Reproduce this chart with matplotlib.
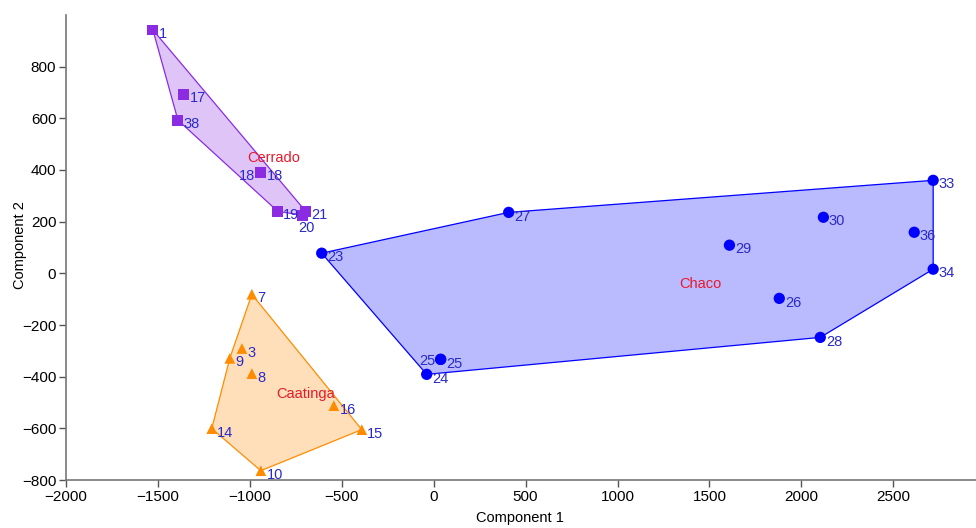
import matplotlib
matplotlib.use("Agg")
import matplotlib.pyplot as plt
import numpy as np

plt.rcParams['font.family'] = ['Liberation Sans', 'DejaVu Sans']

# ---- data ----
cerrado_labels = ["1", "17", "38", "18", "18", "19", "21", "20"]
cerrado_x = [-1527, -1359, -1391, -940, -940, -848, -696, -712]
cerrado_y = [942, 694, 593, 391, 391, 240, 240, 225]

caatinga_labels = ["7", "3", "9", "8", "16", "15", "14", "10"]
caatinga_x = [-989, -1043, -1109, -989, -543, -391, -1207, -940]
caatinga_y = [-81, -291, -329, -388, -512, -605, -601, -764]

chaco_labels = ["23", "27", "29", "30", "33", "36", "34", "26", "28", "25", "25", "24"]
chaco_x = [-609, 408, 1609, 2120, 2717, 2614, 2717, 1880, 2103, 38, 38, -38]
chaco_y = [78, 236, 109, 217, 360, 159, 16, -97, -248, -333, -333, -391]

group_names = ["Cerrado", "Caatinga", "Chaco"]
group_label_x = [-870, -696, 1451]
group_label_y = [446, -469, -43]

x_ticks = [-2000, -1500, -1000, -500, 0, 500, 1000, 1500, 2000, 2500]
y_ticks = [-800, -600, -400, -200, 0, 200, 400, 600, 800]

# label offsets (points) per group, special-case overrides
default_off = (4, -3)
overrides = {
    ("Cerrado", 4): (-4, -3, 'right'),
    ("Cerrado", 7): (-3, -9, 'left'),
    ("Chaco", 10): (-4, -1, 'right'),
}


def convex_hull(pts):
    pts = sorted(set(map(tuple, pts)))
    if len(pts) <= 2:
        return pts

    def cross(o, a, b):
        return (a[0] - o[0]) * (b[1] - o[1]) - (a[1] - o[1]) * (b[0] - o[0])
    lower = []
    for p in pts:
        while len(lower) >= 2 and cross(lower[-2], lower[-1], p) <= 0:
            lower.pop()
        lower.append(p)
    upper = []
    for p in reversed(pts):
        while len(upper) >= 2 and cross(upper[-2], upper[-1], p) <= 0:
            upper.pop()
        upper.append(p)
    return lower[:-1] + upper[:-1]


fig = plt.figure(figsize=(9.76, 5.28), dpi=100)
ax = fig.add_axes([0.0676, 0.0909, 0.9324, 0.8807])

groups = [
    ("Cerrado", cerrado_x, cerrado_y, cerrado_labels, "#8b2be2", "s", 62),
    ("Caatinga", caatinga_x, caatinga_y, caatinga_labels, "#ff8c00", "^", 60),
    ("Chaco", chaco_x, chaco_y, chaco_labels, "#0000ff", "o", 66),
]

for name, xs, ys, labs, col, mk, s in groups:
    hull = convex_hull(list(zip(xs, ys)))
    hx = [p[0] for p in hull]
    hy = [p[1] for p in hull]
    ax.fill(hx, hy, facecolor=col, alpha=0.27, edgecolor='none', zorder=1)
    ax.fill(hx, hy, facecolor='none', edgecolor=col, linewidth=0.9, zorder=2)
    ax.scatter(xs, ys, marker=mk, s=s, color=col, edgecolors='none', zorder=3)
    for i, (x, y, lab) in enumerate(zip(xs, ys, labs)):
        if (name, i) in overrides:
            dx, dy, ha = overrides[(name, i)]
        else:
            dx, dy = default_off
            ha = 'left'
        ax.annotate(lab, (x, y), xytext=(dx, dy), textcoords='offset points',
                    ha=ha, va='center', color='#2a2ac8', fontsize=10.5, zorder=4)

for name, gx, gy in zip(group_names, group_label_x, group_label_y):
    ax.text(gx, gy, name, color='#e8192c', fontsize=10.5, ha='center', va='center', zorder=5)

ax.set_xlim(-2000, 2950)
ax.set_ylim(-800, 1000)
ax.set_xticks(x_ticks)
ax.set_yticks(y_ticks)
ax.tick_params(direction='out', length=5, width=1, colors='#555555', labelcolor='black', labelsize=11, pad=2)
for sp in ['top', 'right']:
    ax.spines[sp].set_visible(False)
for sp in ['left', 'bottom']:
    ax.spines[sp].set_color('#777777')
    ax.spines[sp].set_linewidth(1.2)
ax.set_xlabel("Component 1", fontsize=10.5)
ax.set_ylabel("Component 2", fontsize=10.5)
ax.xaxis.set_label_coords(0.4985, -0.066)
ax.yaxis.set_label_coords(-0.043, 0.505)

fig.savefig("out.png", dpi=100)
